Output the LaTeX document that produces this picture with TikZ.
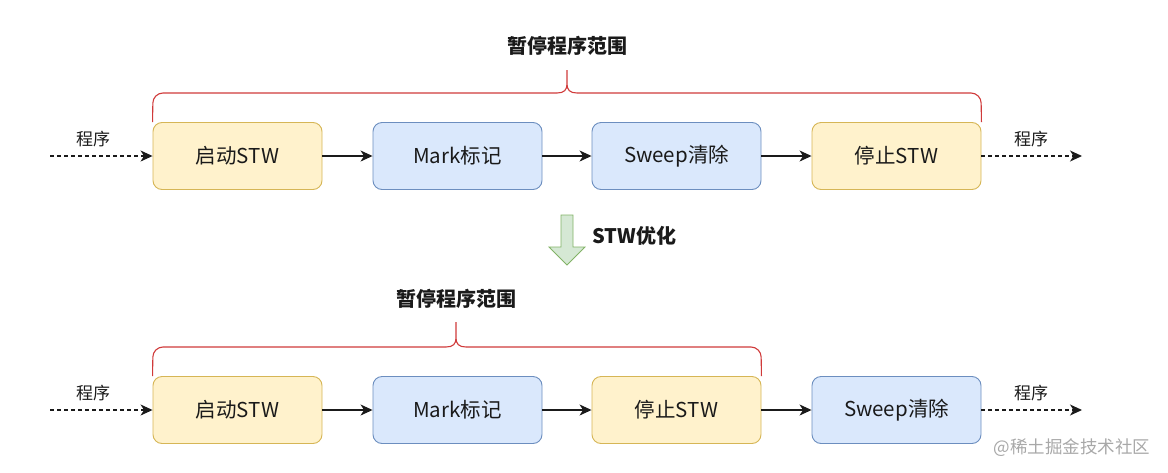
\documentclass[tikz,border=0pt]{standalone}
\usepackage{fontspec}
\setmainfont{Noto Sans CJK SC}
\usetikzlibrary{arrows.meta}
\definecolor{yfill}{HTML}{FFF2CC}
\definecolor{ydraw}{HTML}{D6B656}
\definecolor{bfill}{HTML}{DAE8FC}
\definecolor{bdraw}{HTML}{6C8EBF}
\definecolor{gfill}{HTML}{D5E8D4}
\definecolor{gdraw}{HTML}{82B366}
\definecolor{bracered}{HTML}{D03A3A}
\definecolor{txt}{HTML}{1A1A1A}
\definecolor{wm}{HTML}{A8A8A8}
\tikzset{
  box/.style={rounded corners=9pt, minimum width=169pt, minimum height=67pt, line width=0.9pt, text=txt, font=\fontsize{20.5}{23}\selectfont, inner sep=0pt},
  ybox/.style={box, fill=yfill, draw=ydraw},
  bbox/.style={box, fill=bfill, draw=bdraw},
  flow/.style={-{Stealth[length=12pt,width=11pt,inset=3.5pt]}, line width=1.1pt, draw=txt},
  dflow/.style={flow, dash pattern=on 4pt off 3pt},
  brace/.style={draw=bracered, line width=1.1pt, rounded corners=10pt},
  lbl/.style={font=\fontsize{17}{19}\selectfont, text=txt},
  title/.style={font=\bfseries\fontsize{20}{22}\selectfont, text=txt},
}
\begin{document}
\begin{tikzpicture}[x=1pt,y=-1pt]
\useasboundingbox (0,0) rectangle (1168,472);
% top row
\node[ybox] (a1) at (237.5,156) {启动STW};
\node[bbox] (a2) at (457.5,156) {Mark标记};
\node[bbox] (a3) at (676.5,156) {Sweep清除};
\node[ybox] (a4) at (896.5,156) {停止STW};
\coordinate (ain) at (50,156);
\coordinate (aout) at (1082,156);
\draw[dflow] (ain) -- (a1.west);
\draw[flow] (a1) -- (a2);
\draw[flow] (a2) -- (a3);
\draw[flow] (a3) -- (a4);
\draw[dflow] (a4.east) -- (aout);
\node[lbl] (al1) at (93,139) {程序};
\node[lbl] (al2) at (1031,139) {程序};
% top brace
\draw[brace] (a1.north west) -- (153,93) -- (557,93);
\draw[bracered, line width=1.1pt] (557,93) .. controls (564,93) and (567,90) .. (567,84) -- (567,70) -- (567,84) .. controls (567,90) and (570,93) .. (577,93);
\draw[brace] (577,93) -- (981,93) -- (a4.north east);
\node[title] (at) at (567,46) {暂停程序范围};
% middle arrow
\draw[fill=gfill, draw=gdraw, line width=0.8pt] (561,215) -- (573,215) -- (573,247) -- (585,247) -- (567,265) -- (549,247) -- (561,247) -- cycle;
\node[title, anchor=west] (mid) at (589,236) {STW优化};
% bottom row
\node[ybox] (b1) at (237.5,410) {启动STW};
\node[bbox] (b2) at (457.5,410) {Mark标记};
\node[ybox] (b3) at (676.5,410) {停止STW};
\node[bbox] (b4) at (896.5,410) {Sweep清除};
\coordinate (bin) at (50,410);
\coordinate (bout) at (1082,410);
\draw[dflow] (bin) -- (b1.west);
\draw[flow] (b1) -- (b2);
\draw[flow] (b2) -- (b3);
\draw[flow] (b3) -- (b4);
\draw[dflow] (b4.east) -- (bout);
\node[lbl] (bl1) at (93,393) {程序};
\node[lbl] (bl2) at (1031,393) {程序};
% bottom brace
\draw[brace] (b1.north west) -- (153,347) -- (446,347);
\draw[bracered, line width=1.1pt] (446,347) .. controls (453,347) and (456,344) .. (456,338) -- (456,322) -- (456,338) .. controls (456,344) and (459,347) .. (466,347);
\draw[brace] (466,347) -- (761,347) -- (b3.north east);
\node[title] (bt) at (456,299) {暂停程序范围};
% watermark
\node[font=\fontsize{17.5}{19}\selectfont, text=wm, anchor=east] (w) at (1154,448) {@稀土掘金技术社区};
\end{tikzpicture}
\end{document}
